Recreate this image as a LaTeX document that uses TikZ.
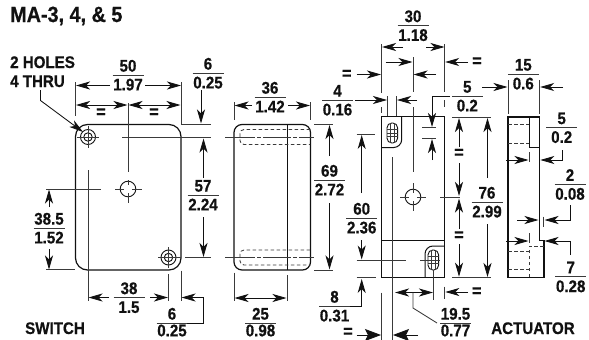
\documentclass[tikz,border=0pt]{standalone}
\usepackage{fontspec}
\setmainfont{Liberation Sans}[BoldFont={Liberation Sans Bold},BoldFeatures={FakeStretch=0.9,FakeBold=0.6}]
\usetikzlibrary{arrows.meta}
\definecolor{ink}{HTML}{111111}
\definecolor{thin}{HTML}{3A3A3A}
\tikzset{
  lab/.style={inner sep=0pt,text depth=0pt,font=\fontsize{16.8}{16.8}\selectfont\bfseries,text=ink},
  eqlab/.style={inner sep=0pt,text depth=0pt,font=\fontsize{18}{18}\selectfont\bfseries,text=ink},
  ol/.style={draw=ink,line width=1.2pt},
  lin/.style={draw=thin,line width=.85pt},
  dsh/.style={draw=thin,line width=.85pt,dash pattern=on 3.5pt off 2.5pt},
  dd/.style={draw=thin,line width=.85pt,dash pattern=on 28pt off 2pt on 4pt off 2pt},
  ar/.style={draw=ink,line width=.85pt,-{Stealth[length=14pt,width=8pt,inset=4pt]}},
  arb/.style={draw=ink,line width=.85pt,{Stealth[length=14pt,width=8pt,inset=4pt]}-{Stealth[length=14pt,width=8pt,inset=4pt]}},
  arbig/.style={draw=ink,line width=.85pt,-{Stealth[length=16pt,width=12pt,inset=3pt]}},
}
\newcommand\fr[4]{% x, rule y, num, den
  \node[lab,anchor=base] (n#1x#2) at (#1,#2-3.4) {#3};
  \node[lab,anchor=base] (d#1x#2) at (#1,#2+15.4) {#4};
  \draw[lin,line width=1pt] (#1-15.5,#2) -- (#1+15.5,#2);
}
\newcommand\frb[4]{% fraction on the bottom edge: denominator set a little tighter
  \node[lab,anchor=base] (n#1x#2) at (#1,#2-3.4) {#3};
  \node[lab,anchor=base] (d#1x#2) at (#1,#2+13.3) {#4};
  \draw[lin,line width=1pt] (#1-15.5,#2) -- (#1+15.5,#2);
}
\newcommand\eqs[2]{\node[eqlab] (e#1x#2) at (#1,#2) {=};}
\newcommand\oblong[2]{%
  \draw[draw=ink,line width=.9pt,rounded corners=4.8pt] (#1-5.3,#2-10) rectangle (#1+5.3,#2+10);
  \draw[lin] (#1-2.2,#2-10) -- (#1-2.2,#2+10) (#1+2.2,#2-10) -- (#1+2.2,#2+10)
     (#1-5.3,#2-3.5) -- (#1+5.3,#2-3.5) (#1-5.3,#2) -- (#1+5.3,#2) (#1-5.3,#2+3.5) -- (#1+5.3,#2+3.5);
}
\begin{document}
\begin{tikzpicture}[x=1pt,y=-1pt]
\useasboundingbox (0,0) rectangle (589,340);
% titles
\node[lab,anchor=base west,font=\fontsize{22}{22}\selectfont\bfseries] (title) at (10,22) {MA-3, 4, \& 5};
\node[lab,anchor=base west] (holes1) at (10,68) {2 HOLES};
\node[lab,anchor=base west] (holes2) at (10,87) {4 THRU};
\node[lab,anchor=base] (switch) at (55,334) {SWITCH};
\node[lab,anchor=base] (actuator) at (533,334) {ACTUATOR};

% ---- switch front view
\draw[ol,rounded corners=12pt] (75.5,124.5) rectangle (181,270);
\draw[lin] (75.5,82) -- (75.5,116) (181,82) -- (181,124) (128,103) -- (128,172);
\draw[lin] (122,137) -- (211,137) (181,124.5) -- (211,124.5) (225,137) -- (229,137);
\draw[ol,line width=.9pt] (88,137) circle (7.5) (88,137) circle (4.2);
\draw[lin] (77,137) -- (99,137) (88,126) -- (88,148) (88,170) -- (88,300.5);
\draw[lin] (46,189) -- (101,189);
\draw[ol,line width=.9pt] (128,189) circle (7.8);
\draw[lin] (115,189) -- (124,189) (132,189) -- (142,189) (128,180) -- (128,185) (128,193) -- (128,203);
\draw[ol,line width=.9pt] (168.5,257.5) circle (7.5) (168.5,257.5) circle (4.2);
\draw[lin] (158,257.5) -- (181,257.5) (185,257.5) -- (211,257.5) (225,257.5) -- (229,257.5);
\draw[lin] (168.5,247) -- (168.5,268) (168.5,274) -- (168.5,300.5) (181,270.5) -- (181,300.5);
\draw[lin] (46,269.8) -- (75,269.8);
% switch dims
\draw[draw=ink,line width=.85pt] (40.5,90) -- (40.5,100.5);
\draw[ar] (40.5,100.5) -- (83,132);
\fr{128}{75}{50}{1.97}
\draw[ar] (110,85.5) -- (76,85.5);
\draw[ar] (145,85.5) -- (181,85.5);
\draw[arb] (76,105) -- (127.5,105);
\draw[arb] (128.5,105) -- (180.5,105);
\eqs{101}{113}\eqs{154}{113}
\fr{208}{73}{6}{0.25}
\draw[ar] (201,90) -- (201,123.5);
\draw[ar] (203.5,178) -- (203.5,138.5);
\fr{203}{195}{57}{2.24}
\draw[ar] (203.5,217) -- (203.5,257);
\fr{49}{228}{38.5}{1.52}
\draw[ar] (49,207) -- (49,189.5);
\draw[ar] (49,249) -- (49,269.5);
\fr{129}{297.5}{38}{1.5}
\draw[ar] (109,297.5) -- (88.5,297.5);
\draw[ar] (150,297.5) -- (168,297.5);
\frb{172}{323}{6}{0.25}
\draw[ar] (187,323) -- (203.5,323) -- (203.5,297.5) -- (181.5,297.5);

% ---- switch side view
\draw[ol,rounded corners=8pt] (234,124.5) rectangle (310.5,270);
\draw[ol,line width=1pt] (287,124.5) -- (287,270);
\draw[dsh,rounded corners=4pt] (310,129.5) -- (240,129.5) -- (240,144.5) -- (310,144.5);
\draw[dsh,rounded corners=4pt] (310,250) -- (240,250) -- (240,265) -- (310,265);
\draw[dd] (227,137) -- (314,137);
\draw[dd] (227,257.5) -- (314,257.5);
\draw[lin] (234,102) -- (234,120) (310.5,102) -- (310.5,120);
\draw[lin] (234,272.7) -- (234,301) (287,275) -- (287,301);
\draw[lin] (314,124.5) -- (333,124.5) (314,270) -- (333,270);
\fr{270}{97}{36}{1.42}
\draw[ar] (252,105.5) -- (234.5,105.5);
\draw[ar] (288,105.5) -- (310,105.5);
\fr{329.5}{180}{69}{2.72}
\draw[ar] (329.5,156) -- (329.5,125);
\draw[ar] (329.5,203) -- (329.5,269.5);
\draw[arb] (234.5,298) -- (286.5,298);
\frb{260.5}{323}{25}{0.98}

% ---- switch body view
\draw[ol] (381.5,116.7) rectangle (444.7,277.7);
\draw[ol,line width=1pt] (381.5,240.7) -- (444.7,240.7);
\draw[ol,line width=1pt,rounded corners=8pt] (381.5,147.5) -- (401.7,147.5) -- (401.7,116.7);
\draw[ol,line width=1pt,rounded corners=8pt] (425,277.7) -- (425,246) -- (444.7,246);
\oblong{392.3}{133}
\oblong{433.3}{260}
\draw[lin] (381.5,44) -- (381.5,92.7) (381.5,107) -- (381.5,113);
\draw[lin] (444.7,44) -- (444.7,92) (444.7,100) -- (444.7,107);
\draw[lin] (413,57) -- (413,92) (413,107) -- (413,172);
\draw[lin] (387.7,96) -- (387.7,116) (396.5,96) -- (396.5,116);
\draw[lin] (392.3,157) -- (392.3,340);
\draw[lin] (381.5,292.7) -- (381.5,340);
\draw[lin] (356.7,134) -- (375,134) (356.7,260.7) -- (405.7,260.7) (420,260.7) -- (440,260.7);
\draw[lin] (356.7,277.7) -- (376,277.7);
\draw[lin] (433.3,270) -- (433.3,300) (444.7,286.7) -- (444.7,299);
\draw[ol,line width=.9pt] (413,197) circle (7.8);
\draw[lin] (400,197) -- (409,197) (417,197) -- (426,197) (413,183) -- (413,193) (413,201) -- (413,211) (440,197) -- (460,197);
\draw[lin] (422,127.7) -- (436,127.7) (422,138) -- (436,138);
\draw[lin] (452,117) -- (491,117) (452,277.7) -- (491,277.7);
% dims
\fr{413}{25.5}{30}{1.18}
\draw[ar] (403,47) -- (382,47);
\draw[ar] (426,47) -- (444.5,47);
\draw[ar] (385.7,62) -- (412.5,62);
\draw[ar] (468,62) -- (445.2,62);
\eqs{477}{62}
\eqs{346.7}{74.5}
\draw[ar] (356.7,74.5) -- (381,74.5);
\draw[ar] (436,74.5) -- (413.5,74.5);
\fr{337.5}{100}{4}{0.16}
\draw[ar] (355,100) -- (387,100);
\draw[ar] (417,100) -- (397,100);
\fr{467.3}{96}{5}{0.2}
\draw[ar] (450,96) -- (432,96) -- (432,127);
\draw[ar] (432,160) -- (432,139);
\draw[ar] (459,147) -- (459,118);
\eqs{459}{153.5}
\draw[ar] (459,163) -- (459,196);
\draw[ar] (459,229) -- (459,198.5);
\eqs{459}{236}
\draw[ar] (459,244) -- (459,276.7);
\draw[ar] (487.5,178) -- (487.5,118);
\fr{487}{202}{76}{2.99}
\draw[ar] (487.5,224) -- (487.5,277);
\fr{361.7}{218}{60}{2.36}
\draw[ar] (361.7,193) -- (361.7,135);
\draw[ar] (361.7,240) -- (361.7,259.5);
\fr{334.5}{306}{8}{0.31}
\draw[ar] (350,306) -- (361.7,306) -- (361.7,279);
\eqs{348}{332.5}
\draw[arbig] (356.7,335) -- (381,335);
\draw[arbig] (418,335) -- (393,335);
\draw[ar] (413,292.5) -- (395,292.5);
\draw[ar] (413,292.5) -- (433,292.5);
\draw[draw=thin,line width=.85pt] (413,292.5) -- (413,308) -- (437,323);
\frb{455.5}{323}{19.5}{0.77}
\draw[ar] (468,292) -- (445.3,292);
\eqs{476.7}{292}

% ---- actuator view
\draw[ol] (508,117) -- (539.7,117) -- (539.7,240.7) -- (544,240.7) -- (544,277.7) -- (508,277.7) -- cycle;
\draw[ol,line width=1pt] (529,117) -- (529,147.5) -- (539.7,147.5);
\draw[dsh] (508,124.5) -- (529,124.5) (508,143) -- (529,143);
\draw[dsh] (508,251) -- (529,251) (508,269.5) -- (529,269.5) (529,277) -- (529,246) -- (544,246);
\draw[lin] (508,80) -- (508,114) (539.7,80) -- (539.7,114);
\draw[lin] (529,152) -- (529,162) (529,233) -- (529,243) (543.5,216.7) -- (543.5,227);
\fr{523.3}{74}{15}{0.6}
\draw[ar] (482,87) -- (507.5,87);
\draw[ar] (563,87) -- (540.2,87);
\fr{561.7}{127.5}{5}{0.2}
\draw[ar] (562.7,150) -- (562.7,160) -- (540.3,160);
\draw[ar] (506,160) -- (528.5,160);
\fr{570}{184.3}{2}{0.08}
\draw[ar] (570,205) -- (570,220) -- (544.5,220);
\draw[ar] (517,220) -- (538.5,220);
\fr{570.7}{276.7}{7}{0.28}
\draw[ar] (570.7,255) -- (570.7,241) -- (544.5,241);
\draw[ar] (506,241) -- (528.5,241);
\end{tikzpicture}
\end{document}
